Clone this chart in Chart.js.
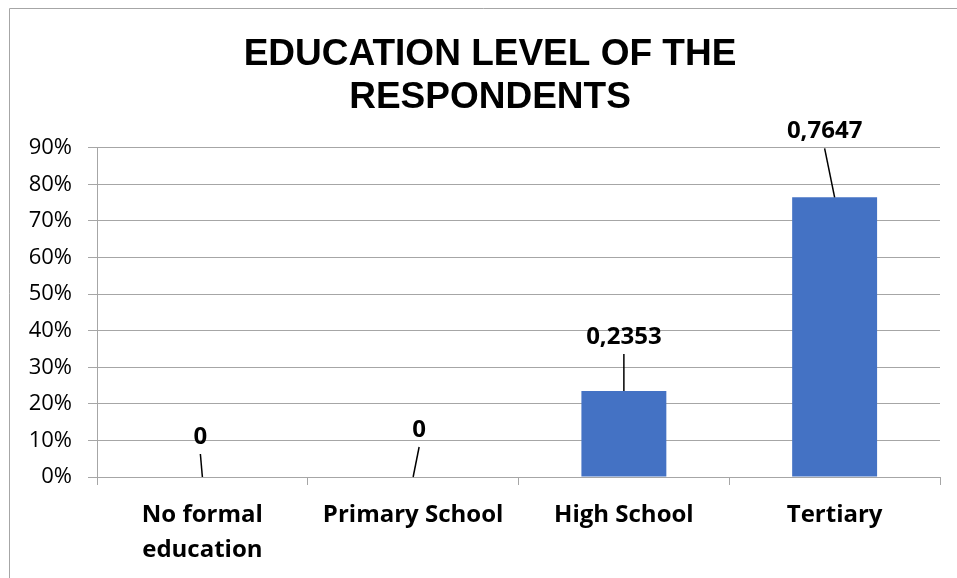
<!DOCTYPE html>
<html>
<head>
<meta charset="utf-8">
<script src="https://cdn.jsdelivr.net/npm/chart.js@4"></script>
<style>
  html, body { margin: 0; padding: 0; background: #fff; }
  #wrap { position: absolute; left: 0; top: 0; width: 957px; height: 578px; }
</style>
</head>
<body>
<div id="wrap"><canvas id="grafico"></canvas></div>
<script>
// Education level chart
const categorias = [
  ['No formal', 'education'],
  'Primary School',
  'High School',
  'Tertiary',
];
const valores = [0, 0, 0.2353, 0.7647];
const tituloLinhas = ['EDUCATION LEVEL OF THE', 'RESPONDENTS'];
const eixoMax = 0.9;
const eixoPasso = 0.1;

// where each value label sits relative to the top of its bar
const labelOffsets = [[-2, -40], [6, -47], [0, -54], [-10, -66]];

const gridCor = '#a6a6a6';

const fundoPlugin = {
  id: 'fundo',
  beforeDraw(chart) {
    const ctx = chart.ctx;
    ctx.save();
    ctx.fillStyle = '#fff';
    ctx.fillRect(0, 0, chart.width, chart.height);
    ctx.strokeStyle = '#a6a6a6';
    ctx.lineWidth = 1;
    ctx.beginPath();
    ctx.moveTo(9.5, chart.height);
    ctx.lineTo(9.5, 8.5);
    ctx.lineTo(chart.width, 8.5);
    ctx.stroke();
    ctx.restore();
  }
};

// title sits a bit right of the plot centre in the original
const tituloPlugin = {
  id: 'tituloShift',
  afterLayout(chart) {
    if (chart.titleBlock) {
      chart.titleBlock.left += 15;
      chart.titleBlock.right += 15;
    }
  }
};

const rotulosPlugin = {
  id: 'rotulos',
  afterDatasetsDraw(chart) {
    const ctx = chart.ctx;
    const meta = chart.getDatasetMeta(0);
    ctx.save();
    ctx.font = 'bold 24px "Open Sans"';
    ctx.textAlign = 'center';
    ctx.textBaseline = 'middle';
    meta.data.forEach((bar, i) => {
      const v = valores[i];
      const [dx, dy] = labelOffsets[i];
      const lx = bar.x + dx;
      const ly = bar.y + dy;
      ctx.fillStyle = '#000';
      ctx.fillText(String(v).replace('.', ','), lx, ly);
      ctx.strokeStyle = '#000';
      ctx.lineWidth = 1.5;
      ctx.beginPath();
      ctx.moveTo(lx, ly + 17);
      ctx.lineTo(bar.x, bar.y);
      ctx.stroke();
    });
    ctx.restore();
  }
};

const dataEdu = {
  labels: categorias,
  datasets: [{
    label: 'Education level',
    data: valores,
    backgroundColor: '#4472C4',
    borderWidth: 0,
    categoryPercentage: 1,
    barPercentage: 0.403,
  }]
};

const configEdu = {
  type: 'bar',
  data: dataEdu,
  options: {
    responsive: true,
    maintainAspectRatio: false,
    animation: false,
    layout: { padding: { left: 10, right: 17, top: 0, bottom: 0 } },
    plugins: {
      legend: { display: false },
      tooltip: { enabled: false },
      title: {
        display: true,
        text: tituloLinhas,
        color: '#000',
        font: { family: '"Liberation Sans", Arial, sans-serif', size: 37, weight: 'bold', lineHeight: 1.16 },
        padding: { top: 33, bottom: 29 },
      },
    },
    scales: {
      x: {
        afterFit(scale) { scale.height = 101; },
        grid: {
          offset: true,
          drawOnChartArea: false,
          drawTicks: true,
          tickLength: 8,
          color: gridCor,
        },
        border: { display: true, color: gridCor },
        ticks: {
          color: '#000',
          padding: 13,
          maxRotation: 0,
          autoSkip: false,
          font: { family: '"Open Sans"', size: 24, weight: 'bold', lineHeight: 1.46 },
        },
      },
      y: {
        min: 0,
        max: eixoMax,
        afterFit(scale) { scale.width = 87; },
        grid: { color: gridCor, tickLength: 9 },
        border: { display: true, color: gridCor },
        ticks: {
          stepSize: eixoPasso,
          color: '#000',
          padding: 16,
          font: { family: '"Open Sans"', size: 22 },
          callback: (v) => Math.round(v * 100) + '%',
        },
      },
    },
  },
  plugins: [fundoPlugin, tituloPlugin, rotulosPlugin],
};

const graficoEdu = new Chart(document.getElementById('grafico'), configEdu);
</script>
</body>
</html>
